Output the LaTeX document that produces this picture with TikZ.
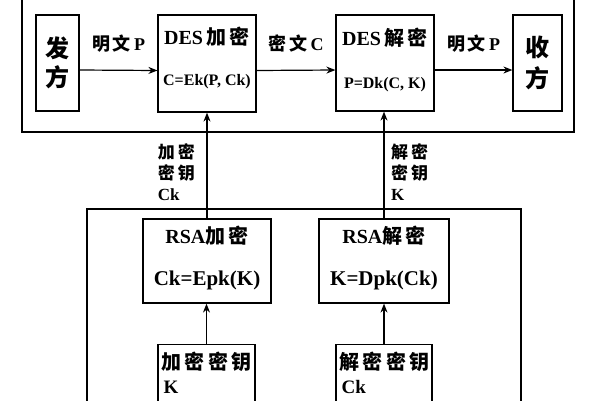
\documentclass[tikz,border=0pt]{standalone}
\usepackage{fontspec}
\setmainfont{Liberation Serif}
\newfontfamily\cjk{Noto Sans CJK SC}
\usetikzlibrary{arrows.meta}
\newcommand\zh[1]{{\cjk\bfseries #1}}
\begin{document}
\begin{tikzpicture}[x=1pt,y=-1pt,
  box/.style={draw, line width=1.2pt, inner sep=0pt, align=center, font=\bfseries},
  txt/.style={inner sep=0pt, font=\bfseries},
  arr/.style={line width=1.2pt, -{Stealth[length=9pt,width=7pt]}},
  frame/.style={line width=1.2pt},
  lbl/.style={font=\bfseries\fontsize{18}{21}\selectfont, inner sep=1pt},
  klbl/.style={font=\bfseries\fontsize{17}{21}\selectfont, align=left, inner sep=0pt}]
\useasboundingbox (0,0) rectangle (600,400);
\fill[white] (0,0) rectangle (600,400);
% frames
\draw[frame] (22,-5) rectangle (574,132);
\draw[frame] (87,209) rectangle (521,410);
% top row
\node[box, minimum width=43pt, minimum height=96pt, font=\bfseries\fontsize{24}{29}\selectfont] (fa) at (57.5,63) {\zh{发}\\\zh{方}};
\node[box, minimum width=98pt, minimum height=97pt] (desE) at (207,63.5) {};
\node[txt, font=\bfseries\fontsize{20}{24}\selectfont] (desEt) at ([yshift=-22pt]desE.north) {DES\,\zh{加}\,\zh{密}};
\node[txt, font=\bfseries\fontsize{16}{19}\selectfont] (desEf) at ([yshift=-67pt]desE.north) {C=Ek(P, Ck)};
\node[box, minimum width=98pt, minimum height=96pt] (desD) at (385,63) {};
\node[txt, font=\bfseries\fontsize{20}{24}\selectfont] (desDt) at ([yshift=-23pt]desD.north) {DES\,\zh{解}\,\zh{密}};
\node[txt, font=\bfseries\fontsize{16}{19}\selectfont] (desDf) at ([yshift=-70pt]desD.north) {P=Dk(C, K)};
\node[box, minimum width=49pt, minimum height=96pt, font=\bfseries\fontsize{24}{31}\selectfont] (shou) at (537.5,63) {\zh{收}\\\zh{方}};
% RSA boxes
\node[box, minimum width=128pt, minimum height=84pt] (rsaE) at (207,261) {};
\node[txt, font=\bfseries\fontsize{20}{24}\selectfont] (rsaEt) at ([yshift=-17pt]rsaE.north) {RSA\zh{加}\,\zh{密}};
\node[txt, font=\bfseries\fontsize{21}{24}\selectfont] (rsaEf) at ([yshift=-62pt]rsaE.north) {Ck=Epk(K)};
\node[box, minimum width=130pt, minimum height=84pt] (rsaD) at (384,261) {};
\node[txt, font=\bfseries\fontsize{20}{24}\selectfont] (rsaDt) at ([yshift=-17pt]rsaD.north) {RSA\zh{解}\,\zh{密}};
\node[txt, font=\bfseries\fontsize{21}{24}\selectfont] (rsaDf) at ([yshift=-62pt]rsaD.north) {K=Dpk(Ck)};
% key boxes
\node[box, minimum width=97pt, minimum height=66pt, anchor=north] (keyE) at (206.5,344) {};
\node[txt, anchor=west, font=\bfseries\fontsize{20}{24}\selectfont] (keyEt) at ([xshift=4pt,yshift=-18pt]keyE.north west) {\zh{加}\,\zh{密}\,\zh{密}\,\zh{钥}};
\node[txt, anchor=west, font=\bfseries\fontsize{19}{24}\selectfont] (keyEk) at ([xshift=6pt,yshift=-43pt]keyE.north west) {K};
\node[box, minimum width=96pt, minimum height=66pt, anchor=north] (keyD) at (384,344) {};
\node[txt, anchor=west, font=\bfseries\fontsize{20}{24}\selectfont] (keyDt) at ([xshift=4pt,yshift=-18pt]keyD.north west) {\zh{解}\,\zh{密}\,\zh{密}\,\zh{钥}};
\node[txt, anchor=west, font=\bfseries\fontsize{19}{24}\selectfont] (keyDk) at ([xshift=6pt,yshift=-43pt]keyD.north west) {Ck};
% horizontal arrows
\draw[arr] ([yshift=-7pt]fa.east) -- ([yshift=-7pt]desE.west)
  node[lbl, midway, above=16pt] (l1) {\zh{明}\,\zh{文}\,P};
\draw[arr] ([yshift=-7pt]desE.east) -- ([yshift=-7pt]desD.west)
  node[lbl, midway, above=16pt] (l2) {\zh{密}\,\zh{文}\,C};
\draw[arr] ([yshift=-7pt]desD.east) -- ([yshift=-7pt]shou.west)
  node[lbl, midway, above=16pt] (l3) {\zh{明}\,\zh{文}\,P};
% vertical arrows
\draw[arr] (rsaE.north) -- (rsaE.north |- desE.south);
\draw[arr] (rsaD.north) -- (rsaD.north |- desD.south);
\draw[arr] (keyE.north) -- (keyE.north |- rsaE.south);
\draw[arr] (keyD.north) -- (keyD.north |- rsaD.south);
% key labels
\node[klbl, anchor=east] (k1) at (195,172) {\zh{加}\,\zh{密}\\\zh{密}\,\zh{钥}\\Ck};
\node[klbl, anchor=west] (k2) at (391,172) {\zh{解}\,\zh{密}\\\zh{密}\,\zh{钥}\\K};
\end{tikzpicture}
\end{document}
